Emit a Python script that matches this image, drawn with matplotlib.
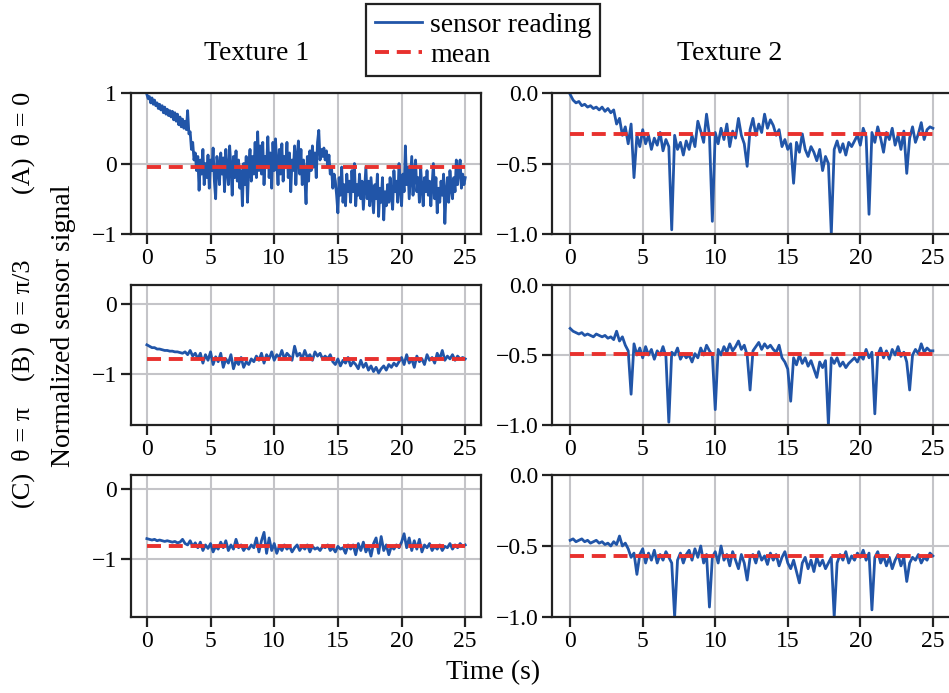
import numpy as np
import matplotlib
matplotlib.use("Agg")
import matplotlib.pyplot as plt

plt.rcParams['font.family'] = ['Liberation Serif', 'DejaVu Serif']
plt.rcParams['font.size'] = 17

# texture 1 at theta = 0 is sampled every 0.1 s, the rest every 0.2 s
t_fine = np.round(np.arange(0, 25.001, 0.1), 2)
t = np.round(np.arange(0, 25.01, 0.2), 2)

tex1_a = [0.98, 0.92, 0.95, 0.86, 0.93, 0.84, 0.90, 0.82, 0.86, 0.78,
          0.84, 0.76, 0.82, 0.72, 0.80, 0.70, 0.77, 0.68, 0.75, 0.66,
          0.74, 0.62, 0.72, 0.60, 0.70, 0.55, 0.66, 0.52, 0.63, 0.50,
          0.60, 0.48, 0.75, 0.42, 0.45, 0.20, 0.30, 0.05, 0.15, -0.10,
          0.10, -0.38, 0.05, -0.15, 0.20, -0.30, 0.00, -0.20, 0.12, -0.35,
          0.05, -0.10, 0.22, -0.25, -0.50, 0.10, -0.05, -0.30, 0.15, -0.15,
          0.08, -0.40, 0.20, -0.10, -0.30, 0.25, -0.05, -0.45, 0.10, -0.20,
          0.18, -0.25, 0.05, -0.35, -0.10, -0.60, 0.00, -0.30, 0.10, -0.55,
          -0.05, 0.20, -0.25, 0.10, -0.15, 0.30, -0.20, 0.45, -0.10, 0.25,
          -0.15, 0.30, -0.30, 0.10, -0.05, 0.38, -0.20, 0.15, -0.35, 0.30,
          -0.10, 0.35, 0.00, -0.30, 0.20, -0.15, 0.28, -0.25, 0.10, -0.05,
          0.30, -0.20, 0.15, -0.40, 0.05, -0.10, 0.25, -0.30, 0.10, 0.32,
          -0.15, 0.20, -0.30, 0.05, -0.20, -0.57, 0.10, -0.25, 0.18, -0.10,
          0.25, -0.05, 0.15, -0.20, 0.30, 0.47, 0.05, 0.20, 0.10, 0.22,
          0.05, 0.18, -0.05, 0.12, -0.15, -0.05, -0.35, -0.15, -0.25, -0.45,
          -0.70, -0.20, -0.45, -0.05, -0.55, -0.30, -0.60, -0.15, -0.40, -0.25,
          -0.55, -0.10, -0.40, 0.00, -0.60, -0.30, -0.45, -0.15, -0.50, -0.25,
          -0.65, -0.35, -0.05, -0.50, -0.25, -0.60, -0.20, -0.45, -0.70, -0.30,
          -0.50, -0.15, -0.75, -0.35, -0.55, -0.20, -0.80, -0.40, -0.60, -0.30,
          -0.55, -0.20, -0.45, -0.65, -0.10, -0.40, -0.25, -0.55, 0.00, -0.35,
          -0.60, -0.15, -0.40, 0.25, -0.30, -0.05, -0.50, -0.20, 0.10, -0.45,
          -0.15, 0.05, -0.40, -0.20, -0.55, -0.05, -0.35, -0.60, -0.20, -0.40,
          -0.10, -0.45, -0.25, -0.60, -0.30, 0.00, -0.50, -0.20, -0.70, -0.35,
          -0.55, -0.25, -0.45, -0.15, -0.85, -0.40, -0.20, -0.55, -0.10, -0.35,
          -0.50, -0.20, -0.40, 0.05, -0.30, -0.10, 0.05, -0.35, -0.15, -0.30,
          -0.20]
tex2_a = [-0.01, -0.05, -0.07, -0.06, -0.09, -0.08, -0.10, -0.09, -0.11, -0.10,
          -0.12, -0.10, -0.13, -0.11, -0.14, -0.12, -0.22, -0.18, -0.30, -0.24,
          -0.36, -0.22, -0.60, -0.30, -0.38, -0.26, -0.36, -0.30, -0.40, -0.32,
          -0.37, -0.28, -0.41, -0.33, -0.38, -0.97, -0.30, -0.40, -0.35, -0.44,
          -0.34, -0.40, -0.30, -0.38, -0.20, -0.27, -0.35, -0.15, -0.30, -0.91,
          -0.28, -0.36, -0.25, -0.33, -0.22, -0.38, -0.27, -0.32, -0.18, -0.30,
          -0.36, -0.52, -0.26, -0.18, -0.30, -0.22, -0.28, -0.15, -0.25, -0.19,
          -0.23, -0.30, -0.26, -0.38, -0.33, -0.40, -0.36, -0.64, -0.35, -0.42,
          -0.29, -0.40, -0.45, -0.38, -0.42, -0.48, -0.40, -0.55, -0.45, -0.50,
          -1.00, -0.40, -0.34, -0.42, -0.36, -0.44, -0.35, -0.38, -0.34, -0.30,
          -0.37, -0.25, -0.31, -0.86, -0.28, -0.35, -0.24, -0.32, -0.42, -0.28,
          -0.33, -0.25, -0.37, -0.30, -0.40, -0.27, -0.57, -0.32, -0.24, -0.35,
          -0.29, -0.21, -0.33, -0.26, -0.24, -0.25]
tex1_b = [-0.58, -0.60, -0.62, -0.62, -0.64, -0.64, -0.65, -0.66, -0.66, -0.67,
          -0.67, -0.68, -0.68, -0.69, -0.70, -0.68, -0.72, -0.66, -0.74, -0.70,
          -0.78, -0.70, -0.84, -0.72, -0.80, -0.68, -0.86, -0.75, -0.82, -0.70,
          -0.90, -0.78, -0.84, -0.72, -0.92, -0.80, -0.86, -0.76, -0.90, -0.82,
          -0.86, -0.78, -0.82, -0.74, -0.80, -0.70, -0.84, -0.72, -0.78, -0.68,
          -0.80, -0.72, -0.76, -0.66, -0.78, -0.70, -0.74, -0.80, -0.60, -0.74,
          -0.70, -0.78, -0.66, -0.76, -0.72, -0.80, -0.68, -0.74, -0.70, -0.78,
          -0.74, -0.78, -0.72, -0.82, -0.86, -0.78, -0.88, -0.80, -0.84, -0.76,
          -0.88, -0.82, -0.86, -0.92, -0.80, -0.90, -0.84, -0.94, -0.88, -0.96,
          -0.90, -0.98, -0.92, -0.88, -0.94, -0.86, -0.90, -0.84, -0.88, -0.82,
          -0.76, -0.86, -0.72, -0.84, -0.78, -0.90, -0.74, -0.82, -0.78, -0.86,
          -0.72, -0.80, -0.76, -0.84, -0.70, -0.78, -0.66, -0.80, -0.74, -0.78,
          -0.72, -0.80, -0.74, -0.78, -0.76, -0.78]
tex2_b = [-0.31, -0.33, -0.34, -0.35, -0.34, -0.36, -0.35, -0.36, -0.37, -0.35,
          -0.36, -0.37, -0.36, -0.38, -0.37, -0.39, -0.33, -0.40, -0.37, -0.43,
          -0.47, -0.78, -0.42, -0.50, -0.45, -0.52, -0.44, -0.50, -0.46, -0.53,
          -0.47, -0.50, -0.44, -0.51, -0.98, -0.48, -0.50, -0.45, -0.53, -0.49,
          -0.52, -0.50, -0.55, -0.49, -0.52, -0.45, -0.50, -0.43, -0.47, -0.50,
          -0.89, -0.46, -0.50, -0.44, -0.48, -0.42, -0.47, -0.44, -0.40, -0.46,
          -0.43, -0.50, -0.75, -0.47, -0.44, -0.41, -0.46, -0.42, -0.45, -0.43,
          -0.46, -0.48, -0.43, -0.52, -0.55, -0.60, -0.83, -0.52, -0.57, -0.50,
          -0.56, -0.52, -0.58, -0.54, -0.60, -0.66, -0.55, -0.59, -0.54, -1.00,
          -0.52, -0.56, -0.52, -0.58, -0.55, -0.59, -0.56, -0.54, -0.52, -0.55,
          -0.50, -0.53, -0.46, -0.52, -0.48, -0.92, -0.50, -0.45, -0.52, -0.47,
          -0.53, -0.46, -0.50, -0.44, -0.51, -0.48, -0.55, -0.75, -0.50, -0.46,
          -0.49, -0.42, -0.48, -0.45, -0.47, -0.47]
tex1_c = [-0.71, -0.72, -0.73, -0.72, -0.74, -0.73, -0.74, -0.75, -0.74, -0.75,
          -0.76, -0.75, -0.77, -0.76, -0.72, -0.78, -0.80, -0.74, -0.82, -0.77,
          -0.84, -0.76, -0.88, -0.80, -0.85, -0.78, -0.90, -0.82, -0.86, -0.76,
          -0.84, -0.74, -0.88, -0.80, -0.86, -0.72, -0.84, -0.80, -0.88, -0.82,
          -0.86, -0.80, -0.84, -0.70, -0.90, -0.74, -0.62, -0.92, -0.70, -0.88,
          -0.78, -0.92, -0.82, -0.88, -0.80, -0.86, -0.82, -0.90, -0.84, -0.80,
          -0.88, -0.82, -0.86, -0.80, -0.90, -0.82, -0.86, -0.84, -0.88, -0.82,
          -0.84, -0.80, -0.88, -0.84, -0.90, -0.82, -0.86, -0.84, -0.92, -0.80,
          -0.86, -0.80, -0.94, -0.78, -0.88, -0.76, -0.90, -0.82, -0.96, -0.78,
          -0.70, -0.92, -0.68, -0.88, -0.80, -0.94, -0.82, -0.86, -0.80, -0.84,
          -0.76, -0.64, -0.84, -0.70, -0.88, -0.74, -0.86, -0.72, -0.90, -0.80,
          -0.84, -0.78, -0.88, -0.82, -0.86, -0.80, -0.88, -0.82, -0.84, -0.78,
          -0.86, -0.80, -0.84, -0.78, -0.82, -0.80]
tex2_c = [-0.46, -0.45, -0.47, -0.46, -0.45, -0.47, -0.46, -0.48, -0.47, -0.46,
          -0.48, -0.47, -0.49, -0.48, -0.50, -0.47, -0.49, -0.43, -0.50, -0.48,
          -0.52, -0.58, -0.55, -0.70, -0.56, -0.52, -0.62, -0.55, -0.60, -0.53,
          -0.62, -0.56, -0.60, -0.54, -0.58, -0.62, -1.00, -0.60, -0.55, -0.62,
          -0.56, -0.53, -0.60, -0.52, -0.58, -0.50, -0.62, -0.56, -0.93, -0.58,
          -0.54, -0.62, -0.50, -0.60, -0.56, -0.64, -0.54, -0.60, -0.66, -0.56,
          -0.62, -0.74, -0.58, -0.56, -0.62, -0.54, -0.60, -0.57, -0.63, -0.55,
          -0.60, -0.56, -0.64, -0.58, -0.54, -0.62, -0.66, -0.60, -0.68, -0.76,
          -0.62, -0.58, -0.66, -0.60, -0.68, -0.58, -0.64, -0.60, -0.66, -0.62,
          -0.58, -1.00, -0.62, -0.56, -0.60, -0.54, -0.62, -0.57, -0.60, -0.55,
          -0.58, -0.53, -0.60, -0.55, -0.95, -0.58, -0.54, -0.62, -0.57, -0.64,
          -0.58, -0.66, -0.60, -0.56, -0.64, -0.58, -0.75, -0.62, -0.58, -0.60,
          -0.56, -0.62, -0.58, -0.60, -0.55, -0.57]

means = [[-0.05, -0.29], [-0.78, -0.49], [-0.82, -0.57]]
signals = [[(t_fine, tex1_a), (t, tex2_a)],
           [(t, tex1_b), (t, tex2_b)],
           [(t, tex1_c), (t, tex2_c)]]
row_labels = ['(A)\u2009 θ = 0', '(B)\u2009 θ = π/3', '(C)\u2009 θ = π']
col_titles = ['Texture 1', 'Texture 2']

blue = '#2155a8'
red = '#e8312e'

fig = plt.figure(figsize=(9.49, 6.93), dpi=100)

lefts = [0.138, 0.5817]
widths = [0.369, 0.4204]
bottoms = [0.6623, 0.3867, 0.1097]
heights = [0.2035, 0.202, 0.2049]
left_ylims = [(-1, 1), (-1.72, 0.27), (-1.83, 0.2)]
left_yticks = [[-1, 0, 1], [-1, 0], [-1, 0]]

for r in range(3):
    for c in range(2):
        ax = fig.add_axes([lefts[c], bottoms[r], widths[c], heights[r]])
        tt, yy = signals[r][c]
        ax.plot(tt, yy, color=blue, lw=2.0, label='sensor reading')
        ax.plot([0, 25], [means[r][c]] * 2, color=red, lw=2.8,
                ls=(0, (3.6, 2.0)), label='mean')
        ax.set_xlim(-1.25, 26.25)
        ax.set_xticks([0, 5, 10, 15, 20, 25])
        if c == 0:
            ax.set_ylim(*left_ylims[r])
            ax.set_yticks(left_yticks[r])
        else:
            ax.set_ylim(-1, 0)
            ax.set_yticks([-1.0, -0.5, 0.0])
            ax.set_yticklabels(['\u22121.0', '\u22120.5', '0.0'])
        ax.grid(True, color='#c4c4c8', lw=1.5)
        ax.set_axisbelow(True)
        for s in ax.spines.values():
            s.set_linewidth(1.6)
            s.set_color('#222222')
        ax.tick_params(direction='out', length=7, width=1.6, labelsize=17,
                       color='#222222', pad=3)
        if r == 0 and c == 0:
            handles, labels = ax.get_legend_handles_labels()

leg = fig.legend(handles, labels, loc='upper center', bbox_to_anchor=(0.509, 0.994),
                 fancybox=False, edgecolor='#222222', framealpha=1, fontsize=20,
                 handlelength=1.7, handletextpad=0.3, borderpad=0.3,
                 labelspacing=0.15, borderaxespad=0)
leg.get_frame().set_linewidth(1.6)

fig.text(257 / 949, 1 - 53 / 693, col_titles[0], ha='center', va='center', fontsize=20)
fig.text(730 / 949, 1 - 53 / 693, col_titles[1], ha='center', va='center', fontsize=20)

label_y = [143, 320, 457]
for lbl, y in zip(row_labels, label_y):
    fig.text(23 / 949, 1 - y / 693, lbl, rotation=90, ha='center', va='center', fontsize=19)

fig.text(64 / 949, 1 - 326 / 693, 'Normalized sensor signal', rotation=90,
         ha='center', va='center', fontsize=20)
fig.text(493 / 949, 1 - 673 / 693, 'Time (s)', ha='center', va='center', fontsize=20)

fig.savefig('out.png', dpi=100)
